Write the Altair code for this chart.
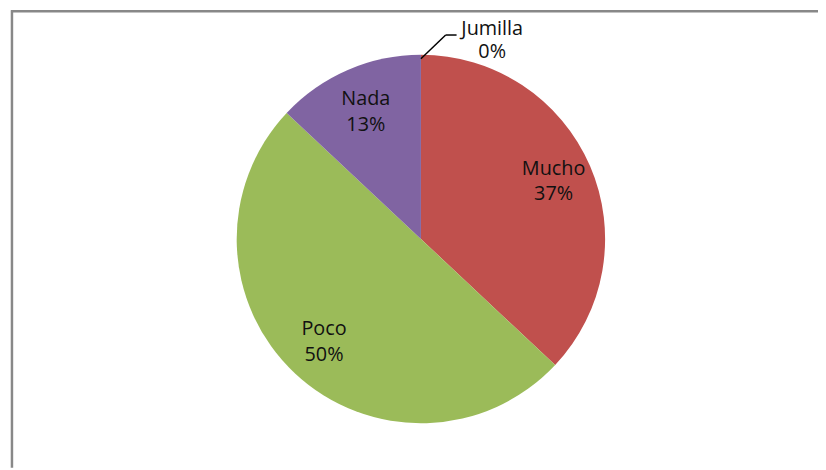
import altair as alt
import pandas as pd
import math

categories = ["Jumilla", "Mucho", "Poco", "Nada"]
values = [0, 37, 50, 13]
colors = ["#4F81BD", "#C0504D", "#9BBB59", "#8064A2"]
label_radius = [200, 146, 143, 140]

df = pd.DataFrame({
    "cat": categories,
    "val": values,
    "order": list(range(len(categories))),
    "r": label_radius,
})
df["label"] = [f"{c}\n{v}%" for c, v in zip(categories, values)]

W, H = 818, 462
CX, CY = 417, 231
FONT = "Open Sans"
FS = 20
LH = 26

base = alt.Chart(df)

pie = base.mark_arc(outerRadius=186, stroke=None).encode(
    theta=alt.Theta("val:Q", stack=True),
    order=alt.Order("order:Q"),
    color=alt.Color("cat:N", scale=alt.Scale(domain=categories, range=colors), legend=None),
    x=alt.value(CX),
    y=alt.value(CY),
)

labels = base.transform_window(
    cum="sum(val)", sort=[alt.SortField("order")]
).transform_joinaggregate(
    total="sum(val)"
).transform_calculate(
    mid=f"(datum.cum - datum.val / 2) / datum.total * 2 * {math.pi}"
).transform_filter(alt.datum.cat != "Jumilla").mark_text(
    font=FONT, fontSize=FS, lineBreak="\n", lineHeight=LH,
    color="#111111", align="center", baseline="middle", dy=-LH / 2,
).encode(
    theta=alt.Theta("mid:Q", scale=None),
    radius=alt.Radius("r:Q", scale=None),
    text="label:N",
    x=alt.value(CX),
    y=alt.value(CY),
)

jum = base.transform_filter(alt.datum.cat == "Jumilla").mark_text(
    font=FONT, fontSize=FS, lineBreak="\n", lineHeight=23,
    color="#111111", align="center", baseline="middle",
).encode(text="label:N", x=alt.value(489), y=alt.value(19))

leader1 = base.transform_filter(alt.datum.cat == "Jumilla").mark_rule(color="#000000", strokeWidth=1.5).encode(
    x=alt.value(417), y=alt.value(49), x2=alt.value(442), y2=alt.value(25))
leader2 = base.transform_filter(alt.datum.cat == "Jumilla").mark_rule(color="#000000", strokeWidth=1.5).encode(
    x=alt.value(442), y=alt.value(25), x2=alt.value(453), y2=alt.value(25))

frame_top = base.transform_filter(alt.datum.cat == "Jumilla").mark_rule(color="#888888", strokeWidth=2.5).encode(
    x=alt.value(3), x2=alt.value(W), y=alt.value(1), y2=alt.value(1))
frame_left = base.transform_filter(alt.datum.cat == "Jumilla").mark_rule(color="#888888", strokeWidth=2.5).encode(
    x=alt.value(4), x2=alt.value(4), y=alt.value(0), y2=alt.value(H))

chart = alt.layer(frame_top, frame_left, pie, labels, jum, leader1, leader2).properties(
    width=W, height=H, autosize=alt.AutoSizeParams(type="none"), padding=0,
    background="white",
).configure_view(stroke=None)

chart.save("out.html", embed_options={"renderer": "svg", "actions": False})
